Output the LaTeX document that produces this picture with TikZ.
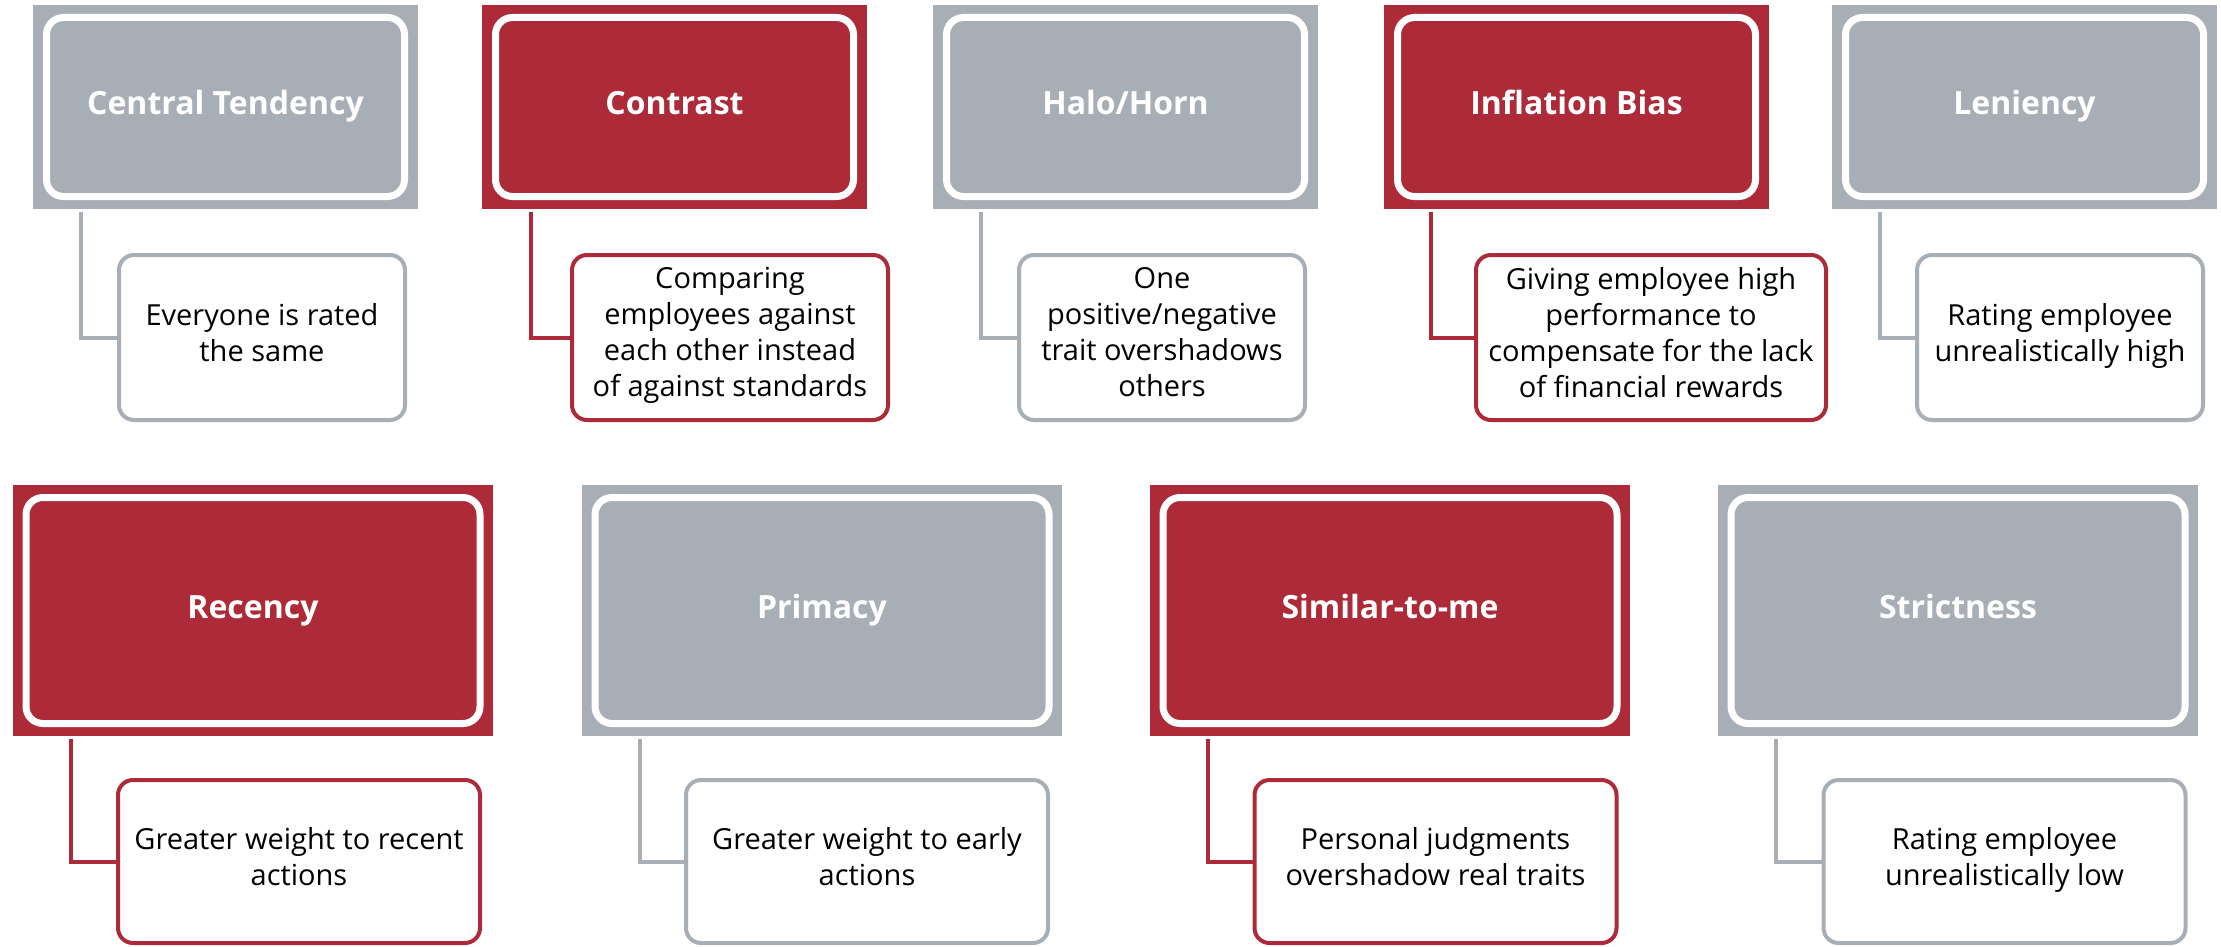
\documentclass[tikz,border=0pt]{standalone}
\usepackage{fontspec}
\setmainfont{Open Sans}
\usetikzlibrary{shadows,calc}
\definecolor{bred}{RGB}{173,42,56}
\definecolor{bgray}{RGB}{168,174,182}
\newcommand\myTitleFont{\fontsize{32}{38}\selectfont\bfseries}
\newcommand\myChildFont{\fontsize{29}{36}\selectfont}
\tikzset{
  outerbox/.style={rectangle, draw=none, inner sep=0pt},
  innerbox/.style={rectangle, rounded corners=17pt, draw=white, line width=7pt, inner sep=0pt,
    drop shadow={shadow xshift=1.5pt, shadow yshift=-2.5pt, opacity=0.35, fill=black},
    text=white, font=\myTitleFont, text height=24pt, text depth=9pt},
  childbox/.style={rectangle, rounded corners=15pt, line width=4pt, fill=white, align=center,
    font=\myChildFont, inner sep=0pt, text=black,
    execute at begin node=\strut, execute at end node=\strut},
  link/.style={line width=4pt},
  topouter/.style={outerbox, minimum width=385pt, minimum height=204pt},
  topinner/.style={innerbox, minimum width=358pt, minimum height=179pt},
  botouter/.style={outerbox, minimum width=480pt, minimum height=251pt},
  botinner/.style={innerbox, minimum width=454pt, minimum height=226pt},
  topchild/.style={childbox, minimum height=165pt},
  botchild/.style={childbox, minimum height=163pt, minimum width=362pt},
}
\begin{document}
\begin{tikzpicture}[x=1pt,y=-1pt]
\useasboundingbox (0,0) rectangle (2221,947);
% ---------- top row ----------
\node[topouter, fill=bgray] (o1) at (225.5,107) {};
\node[topinner, fill=bgray] (i1) at (o1) {Central Tendency};
\node[topchild, draw=bgray, minimum width=286pt] (c1) at (262,337.5) {Everyone is rated\\the same};
\draw[link, bgray] ($(o1.south west)+(48,3)$) |- (c1.west);

\node[topouter, fill=bred] (o2) at (674.5,107) {};
\node[topinner, fill=bred] (i2) at (o2) {Contrast};
\node[topchild, draw=bred, minimum width=316pt] (c2) at (730,337.5) {Comparing\\employees against\\each other instead\\of against standards};
\draw[link, bred] ($(o2.south west)+(49,3)$) |- (c2.west);

\node[topouter, fill=bgray] (o3) at (1125.5,107) {};
\node[topinner, fill=bgray] (i3) at (o3) {Halo/Horn};
\node[topchild, draw=bgray, minimum width=286pt] (c3) at (1162,337.5) {One\\positive/negative\\trait overshadows\\others};
\draw[link, bgray] ($(o3.south west)+(48,3)$) |- (c3.west);

\node[topouter, fill=bred] (o4) at (1576.5,107) {};
\node[topinner, fill=bred] (i4) at (o4) {Inflation Bias};
\node[topchild, draw=bred, minimum width=350pt] (c4) at (1651,337.5) {Giving employee high\\performance to\\compensate for the lack\\of financial rewards};
\draw[link, bred] ($(o4.south west)+(47,3)$) |- (c4.west);

\node[topouter, fill=bgray] (o5) at (2024.5,107) {};
\node[topinner, fill=bgray] (i5) at (o5) {Leniency};
\node[topchild, draw=bgray, minimum width=286pt] (c5) at (2060,337.5) {Rating employee\\unrealistically high};
\draw[link, bgray] ($(o5.south west)+(48,3)$) |- (c5.west);

% ---------- bottom row ----------
\node[botouter, fill=bred] (o6) at (253,610.5) {};
\node[botinner, fill=bred] (i6) at (o6) {Recency};
\node[botchild, draw=bred] (c6) at (299,861.5) {Greater weight to recent\\actions};
\draw[link, bred] ($(o6.south west)+(58,3)$) |- (c6.west);

\node[botouter, fill=bgray] (o7) at (822,610.5) {};
\node[botinner, fill=bgray] (i7) at (o7) {Primacy};
\node[botchild, draw=bgray] (c7) at (867,861.5) {Greater weight to early\\actions};
\draw[link, bgray] ($(o7.south west)+(58,3)$) |- (c7.west);

\node[botouter, fill=bred] (o8) at (1390,610.5) {};
\node[botinner, fill=bred] (i8) at (o8) {Similar-to-me};
\node[botchild, draw=bred] (c8) at (1435.5,861.5) {Personal judgments\\overshadow real traits};
\draw[link, bred] ($(o8.south west)+(58,3)$) |- (c8.west);

\node[botouter, fill=bgray] (o9) at (1958,610.5) {};
\node[botinner, fill=bgray] (i9) at (o9) {Strictness};
\node[botchild, draw=bgray] (c9) at (2004.5,861.5) {Rating employee\\unrealistically low};
\draw[link, bgray] ($(o9.south west)+(58,3)$) |- (c9.west);
\end{tikzpicture}
\end{document}
